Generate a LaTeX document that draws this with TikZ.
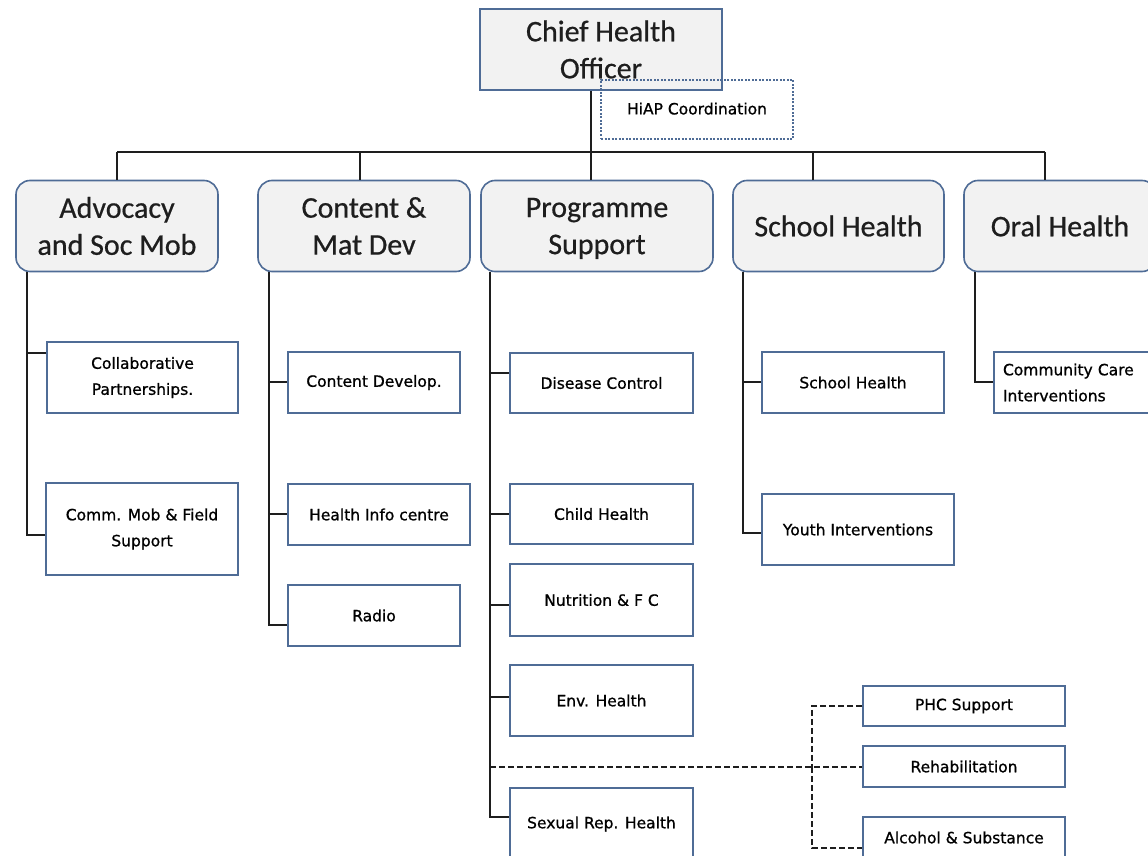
\documentclass[tikz,border=0pt]{standalone}
\usepackage{fontspec}
\newfontfamily\headfont[FakeBold=0.6]{Carlito}
\newfontfamily\boxfont[FakeBold=0.9]{DejaVu Sans}
\definecolor{bcol}{RGB}{79,108,150}
\definecolor{hfill}{RGB}{242,242,242}
\definecolor{lcol}{RGB}{30,30,30}
\begin{document}
\begin{tikzpicture}[x=1pt,y=-1pt,
  head/.style={draw=bcol, line width=1.6pt, fill=hfill, rounded corners=14pt, inner sep=0pt, align=center,
    text=lcol, font=\headfont\fontsize{30}{37}\selectfont},
  leaf/.style={draw=bcol, line width=1.6pt, fill=white, inner sep=0pt, align=center,
    font=\boxfont\fontsize{15.5}{26}\selectfont},
  conn/.style={line width=2pt, draw=lcol},
  dconn/.style={line width=2pt, draw=lcol, dash pattern=on 6pt off 3pt}]
\useasboundingbox (0,0) rectangle (1148,856);

% top
\node[head, rounded corners=0pt, minimum width=242pt, minimum height=81pt] (chief) at (601,49.5) {Chief Health\\Officer};
\node[draw=bcol, line width=1.1pt, dash pattern=on 2pt off 1.5pt, minimum width=192pt, minimum height=59pt,
  inner sep=0pt, font=\boxfont\fontsize{15.5}{16}\selectfont] (hiap) at (697,109.5) {\raisebox{2pt}{HiAP Coordination}};

% level 1
\node[head, minimum width=202pt, minimum height=91pt] (adv) at (117,226) {Advocacy\\and Soc Mob};
\node[head, minimum width=212pt, minimum height=91pt] (cont) at (364,226) {Content \&\\Mat Dev};
\node[head, minimum width=232pt, minimum height=91pt] (prog) at (597,226) {Programme\\\smash{Support}};
\node[head, minimum width=211pt, minimum height=91pt] (school) at (838.5,226) {School Health};
\node[head, minimum width=192pt, minimum height=91pt] (oral) at (1060,226) {Oral Health};

% bus
\coordinate (b1) at (117,152);
\coordinate (b2) at (360,152);
\coordinate (b3) at (591,152);
\coordinate (b4) at (813,152);
\coordinate (b5) at (1045,152);
\draw[conn] (chief.south -| b3) -- (b3);
\draw[conn] (b1) -- (b5);
\draw[conn] (b1) -- (adv.north -| b1);
\draw[conn] (b2) -- (cont.north -| b2);
\draw[conn] (b3) -- (prog.north -| b3);
\draw[conn] (b4) -- (school.north -| b4);
\draw[conn] (b5) -- (oral.north -| b5);

% leaves
\node[leaf, minimum width=191pt, minimum height=71pt] (collab) at (142.5,377.5) {Collaborative\\Partnerships.};
\node[leaf, minimum width=192pt, minimum height=92pt] (comm) at (142,529) {Comm. Mob \& Field\\Support};

\node[leaf, minimum width=172pt, minimum height=61pt] (cdev) at (374,382.5) {Content Develop.};
\node[leaf, minimum width=182pt, minimum height=61pt] (hic) at (379,514.5) {Health Info centre};
\node[leaf, minimum width=172pt, minimum height=61pt] (radio) at (374,615.5) {Radio};

\node[leaf, minimum width=183pt, minimum height=60pt] (dc) at (601.5,383) {Disease Control};
\node[leaf, minimum width=183pt, minimum height=60pt] (ch) at (601.5,514) {Child Health};
\node[leaf, minimum width=183pt, minimum height=72pt] (nut) at (601.5,600) {Nutrition \& F C};
\node[leaf, minimum width=183pt, minimum height=71pt] (env) at (601.5,700.5) {Env. Health};
\node[leaf, minimum width=183pt, minimum height=72pt] (sex) at (601.5,824) {Sexual Rep. Health};

\node[leaf, minimum width=182pt, minimum height=61pt] (sh) at (853,382.5) {School Health};
\node[leaf, minimum width=192pt, minimum height=71pt] (yi) at (858,529.5) {Youth Interventions};

\node[leaf, minimum width=182pt, minimum height=61pt, align=left, text width=164pt] (cc) at (1085,382.5) {Community Care\\Interventions};

\node[leaf, minimum width=202pt, minimum height=40pt] (phc) at (964,706) {PHC Support};
\node[leaf, minimum width=202pt, minimum height=41pt] (rehab) at (964,766.5) {Rehabilitation};
\node[leaf, minimum width=202pt, minimum height=41pt] (alc) at (964,837.5) {Alcohol \& Substance};

% vertical spines
\coordinate (sa) at (27,0);
\coordinate (sc) at (269,0);
\coordinate (sp) at (490,0);
\coordinate (ss) at (743,0);
\coordinate (so) at (975,0);
\coordinate (sd) at (812,0);

% advocacy
\draw[conn] (adv.south -| sa) |- ([yshift=-6pt]comm.west);
\draw[conn] (sa |- 0,353) -- ([yshift=24.5pt]collab.west);
% content
\draw[conn] (cont.south -| sc) |- ([yshift=-9.5pt]radio.west);
\draw[conn] (sc |- 0,382) -- ([yshift=0.5pt]cdev.west);
\draw[conn] (sc |- 0,514) -- ([yshift=0.5pt]hic.west);
% programme
\draw[conn] (prog.south -| sp) |- ([yshift=7pt]sex.west);
\draw[conn] (sp |- 0,373) -- ([yshift=10pt]dc.west);
\draw[conn] (sp |- ch.west) -- (ch.west);
\draw[conn] (sp |- 0,605) -- ([yshift=-5pt]nut.west);
\draw[conn] (sp |- 0,697) -- ([yshift=3.5pt]env.west);
% school
\draw[conn] (school.south -| ss) |- ([yshift=-3.5pt]yi.west);
\draw[conn] (ss |- 0,382) -- ([yshift=0.5pt]sh.west);
% oral
\draw[conn] (oral.south -| so) |- ([yshift=0.5pt]cc.west);
% dashed
\coordinate (rl) at (0,767);
\draw[dconn] (sp |- rl) -- ([yshift=-0.5pt]rehab.west);
\draw[dconn] (phc.west) -| (sd |- rl);
\draw[dconn] (sd |- rl) |- ([yshift=-10.5pt]alc.west);
\end{tikzpicture}
\end{document}
